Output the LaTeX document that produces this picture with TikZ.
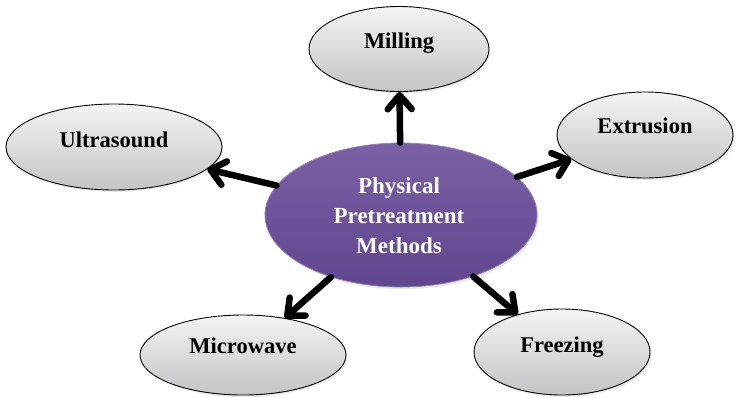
\documentclass[tikz,border=0pt]{standalone}
\usepackage{fontspec}
\setmainfont{Liberation Serif}
\usetikzlibrary{arrows.meta,shapes.geometric,shadows}
\definecolor{purpTop}{RGB}{122,96,164}
\definecolor{purpBot}{RGB}{96,70,142}
\definecolor{purpRim}{RGB}{150,128,190}
\definecolor{greyTop}{RGB}{244,244,244}
\definecolor{greyBot}{RGB}{196,196,198}
\tikzset{
  hub/.style={ellipse, minimum width=272pt, minimum height=144pt,
    top color=purpTop, bottom color=purpBot, draw=purpRim, line width=0.8pt,
    drop shadow={opacity=0.18, shadow xshift=1.5pt, shadow yshift=-2pt}},
  leaf/.style={ellipse, draw=black, line width=0.9pt,
    top color=greyTop, bottom color=greyBot,
    drop shadow={opacity=0.15, shadow xshift=1.5pt, shadow yshift=-2pt}},
  hubtext/.style={font=\bfseries\fontsize{23}{30}\selectfont, text=white, align=center},
  leaftext/.style={font=\bfseries\fontsize{22.5}{26}\selectfont, text=black, anchor=base},
  link/.style={line width=6.5pt, line cap=round, line join=round,
    -{Straight Barb[length=14pt, width=24pt, line cap=round, line join=round]}}
}
\begin{document}
\begin{tikzpicture}[x=1pt, y=-1pt]
  \useasboundingbox (0,0) rectangle (736,397);

  % outer methods
  \node[leaf, minimum width=180pt, minimum height=85pt] (mil) at (399,49) {};
  \node[leaf, minimum width=216pt, minimum height=86pt] (ult) at (114,147) {};
  \node[leaf, minimum width=176pt, minimum height=86pt] (ext) at (645,135) {};
  \node[leaf, minimum width=206pt, minimum height=80pt] (mic) at (243,355) {};
  \node[leaf, minimum width=176pt, minimum height=86pt] (fre) at (562,352) {};

  \node[leaftext] at ([yshift=1pt]mil.center) {Milling};
  \node[leaftext] at ([yshift=0pt]ult.center) {Ultrasound};
  \node[leaftext] at ([yshift=2pt]ext.center) {Extrusion};
  \node[leaftext] at ([yshift=2pt]mic.center) {Microwave};
  \node[leaftext] at ([yshift=0pt]fre.center) {Freezing};

  % central node
  \node[hub] (hub) at (401,215) {};
  \node[hubtext] (hubtxt) at (399,216) {Physical\\Pretreatment\\Methods};

  % connectors
  \draw[link] (hub) -- (mil);
  \draw[link] (hub) -- (ult);
  \draw[link] (hub) -- (ext);
  \draw[link] (hub) -- (mic);
  \draw[link] (hub) -- (fre);
\end{tikzpicture}
\end{document}
